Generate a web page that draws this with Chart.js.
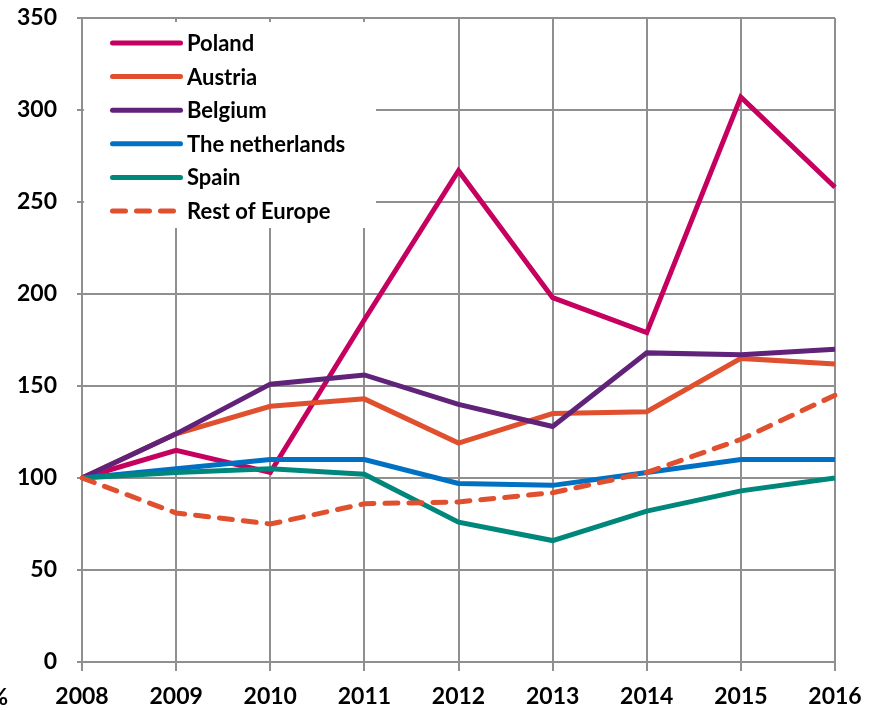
<!DOCTYPE html>
<html>
<head>
<meta charset="utf-8">
<script src="https://cdn.jsdelivr.net/npm/chart.js@4"></script>
<style>
  body { margin: 0; background: #fff; }
  #wrap { width: 880px; height: 710px; }
</style>
</head>
<body>
<div id="wrap"><canvas id="myChart" width="880" height="710"></canvas></div>
<script>
// values (index, 2008 = 100)
const years = ['2008', '2009', '2010', '2011', '2012', '2013', '2014', '2015', '2016'];
const poland = [100, 115, 103, 186, 267, 198, 179, 307, 258];
const austria = [100, 124, 139, 143, 119, 135, 136, 165, 162];
const belgium = [100, 124, 151, 156, 140, 128, 168, 167, 170];
const netherlands = [100, 105, 110, 110, 97, 96, 103, 110, 110];
const spain = [100, 103, 105, 102, 76, 66, 82, 93, 100];
const restOfEurope = [100, 81, 75, 86, 87, 92, 103, 121, 145];
const seriesNames = ['Poland', 'Austria', 'Belgium', 'The netherlands', 'Spain', 'Rest of Europe'];
const yMin = 0;
const yMax = 350;
const yStep = 50;

const FONT = 'Lato, "Noto Sans", sans-serif';
const GRID = '#8f8f8f';

function series(label, data, color, order, dash) {
    return {
        label: label,
        data: data,
        borderColor: color,
        backgroundColor: color,
        borderWidth: 5,
        borderDash: dash || [],
        borderCapStyle: dash ? 'round' : 'butt',
        borderJoinStyle: 'miter',
        pointRadius: 0,
        tension: 0,
        fill: false,
        order: order
    };
}

// legend drawn inside the plot, on a white box that hides the grid
const insideLegend = {
    id: 'insideLegend',
    beforeDatasetsDraw(chart) {
        const ctx = chart.ctx;
        ctx.save();
        ctx.fillStyle = '#fff';
        ctx.fillRect(84, 22, 292, 206);
        ctx.font = 'bold 22px ' + FONT;
        ctx.textBaseline = 'middle';
        ctx.textAlign = 'left';
        chart.data.datasets.forEach((ds, i) => {
            const y = 43 + i * 33.6;
            ctx.strokeStyle = ds.borderColor;
            ctx.lineWidth = 5;
            ctx.lineCap = 'round';
            ctx.setLineDash(ds.borderDash.length ? [13, 11] : []);
            ctx.beginPath();
            ctx.moveTo(112.5, y);
            ctx.lineTo(ds.borderDash.length ? 174 : 180.5, y);
            ctx.stroke();
            ctx.setLineDash([]);
            ctx.fillStyle = '#000';
            ctx.fillText(ds.label, 187, y + 1);
        });
        ctx.restore();
    },
    afterDraw(chart) {
        // clipped unit label at the bottom-left corner
        const ctx = chart.ctx;
        ctx.save();
        ctx.font = 'bold 23px ' + FONT;
        ctx.fillStyle = '#000';
        ctx.textAlign = 'right';
        ctx.textBaseline = 'alphabetic';
        ctx.fillText('%', 8, 705);
        ctx.restore();
    }
};

document.addEventListener('DOMContentLoaded', function() {
    const ctx = document.getElementById('myChart').getContext('2d');
    new Chart(ctx, {
        type: 'line',
        data: {
            labels: years,
            datasets: [
                series(seriesNames[0], poland, '#c6005f', 6),
                series(seriesNames[1], austria, '#e04f2e', 5),
                series(seriesNames[2], belgium, '#612279', 4),
                series(seriesNames[3], netherlands, '#0071c2', 3),
                series(seriesNames[4], spain, '#00877b', 2),
                series(seriesNames[5], restOfEurope, '#e04f2e', 1, [13, 11])
            ]
        },
        options: {
            responsive: false,
            animation: false,
            layout: { padding: { left: 0, right: 45, top: 18, bottom: 0 } },
            plugins: {
                legend: { display: false },
                tooltip: { enabled: false }
            },
            scales: {
                x: {
                    offset: false,
                    grid: { color: GRID, lineWidth: 2, tickLength: 9 },
                    border: { color: GRID, width: 2 },
                    ticks: {
                        color: '#000',
                        font: { family: FONT, size: 23, weight: 'bold' },
                        padding: 12,
                        maxRotation: 0
                    },
                    afterFit(scale) { scale.height = 48; }
                },
                y: {
                    min: yMin,
                    max: yMax,
                    grid: { color: GRID, lineWidth: 2, tickLength: 5 },
                    border: { color: GRID, width: 2 },
                    ticks: {
                        stepSize: yStep,
                        color: '#000',
                        font: { family: FONT, size: 23, weight: 'bold' },
                        padding: 20
                    },
                    afterFit(scale) {
                        scale.width = 82;
                        scale.paddingTop = 0;
                    }
                }
            }
        },
        plugins: [insideLegend]
    });
});
</script>
</body>
</html>
